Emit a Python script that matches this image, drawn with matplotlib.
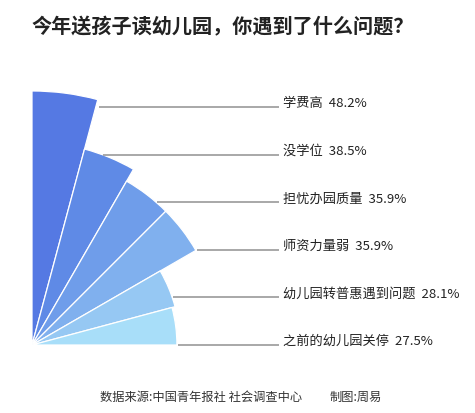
import numpy as np
import matplotlib
matplotlib.use('Agg')
import matplotlib.pyplot as plt
from matplotlib.patches import Wedge

plt.rcParams['font.family'] = ['Noto Sans CJK SC', 'DejaVu Sans']

# data, top wedge first
labels = ['学费高', '没学位', '担忧办园质量', '师资力量弱', '幼儿园转普惠遇到问题', '之前的幼儿园关停']
values = [48.2, 38.5, 35.9, 35.9, 28.1, 27.5]
colors = ['#5579e3', '#5f8ae6', '#6f9dea', '#80b0ee', '#96c8f3', '#a8def9']

title = '今年送孩子读幼儿园，你遇到了什么问题？'
source = '数据来源:中国青年报社 社会调查中心'
author = '制图:周易'


def main():
    fig = plt.figure(figsize=(4.75, 4.14), dpi=100)
    ax = fig.add_axes([0, 0, 1, 1])
    # 1 data unit = 5.27 px, centre of the rose at pixel (32, 346)
    scale = 5.27
    ax.set_xlim(-32 / scale, (475 - 32) / scale)
    ax.set_ylim(-(414 - 346) / scale, 346 / scale)
    ax.set_aspect('equal')
    ax.axis('off')

    n = len(values)
    step = 90.0 / n
    line_gap = 47.6 / scale
    x_end = (279 - 32) / scale
    for i, (lab, v, c) in enumerate(zip(labels, values, colors)):
        t1 = 90 - (i + 1) * step
        t2 = 90 - i * step
        ax.add_patch(Wedge((0, 0), v, t1, t2, facecolor=c,
                           edgecolor='white', linewidth=0.9))
        # leader line: hits the arc if it can, else starts at the lower corner
        y = (n - 1 - i) * line_gap
        s = min(y / v, 1.0)
        ang = np.degrees(np.arcsin(s))
        if ang > t2:
            ang = t2
        if ang < t1:
            ang = t1
            x0 = v * np.cos(np.radians(ang)) + 0.2
        else:
            x0 = np.sqrt(max(v ** 2 - y ** 2, 0)) + 0.2
        ax.plot([x0, x_end], [y, y], color='#999999', linewidth=1.2,
                solid_capstyle='butt')
        ax.text(x_end + 0.8, y + 0.85, f'{lab}  {v}%', fontsize=9.5,
                color='#222222', ha='left', va='center')

    fig.text(32 / 475, 1 - 27 / 414, title, fontsize=14.5, fontweight='bold',
             color='#222222', ha='left', va='center')
    fig.text(100 / 475, 1 - 397 / 414, source, fontsize=8.8,
             color='#333333', ha='left', va='center')
    fig.text(330 / 475, 1 - 397 / 414, author, fontsize=8.8,
             color='#333333', ha='left', va='center')

    fig.savefig('out.png', dpi=100)


if __name__ == '__main__':
    main()
